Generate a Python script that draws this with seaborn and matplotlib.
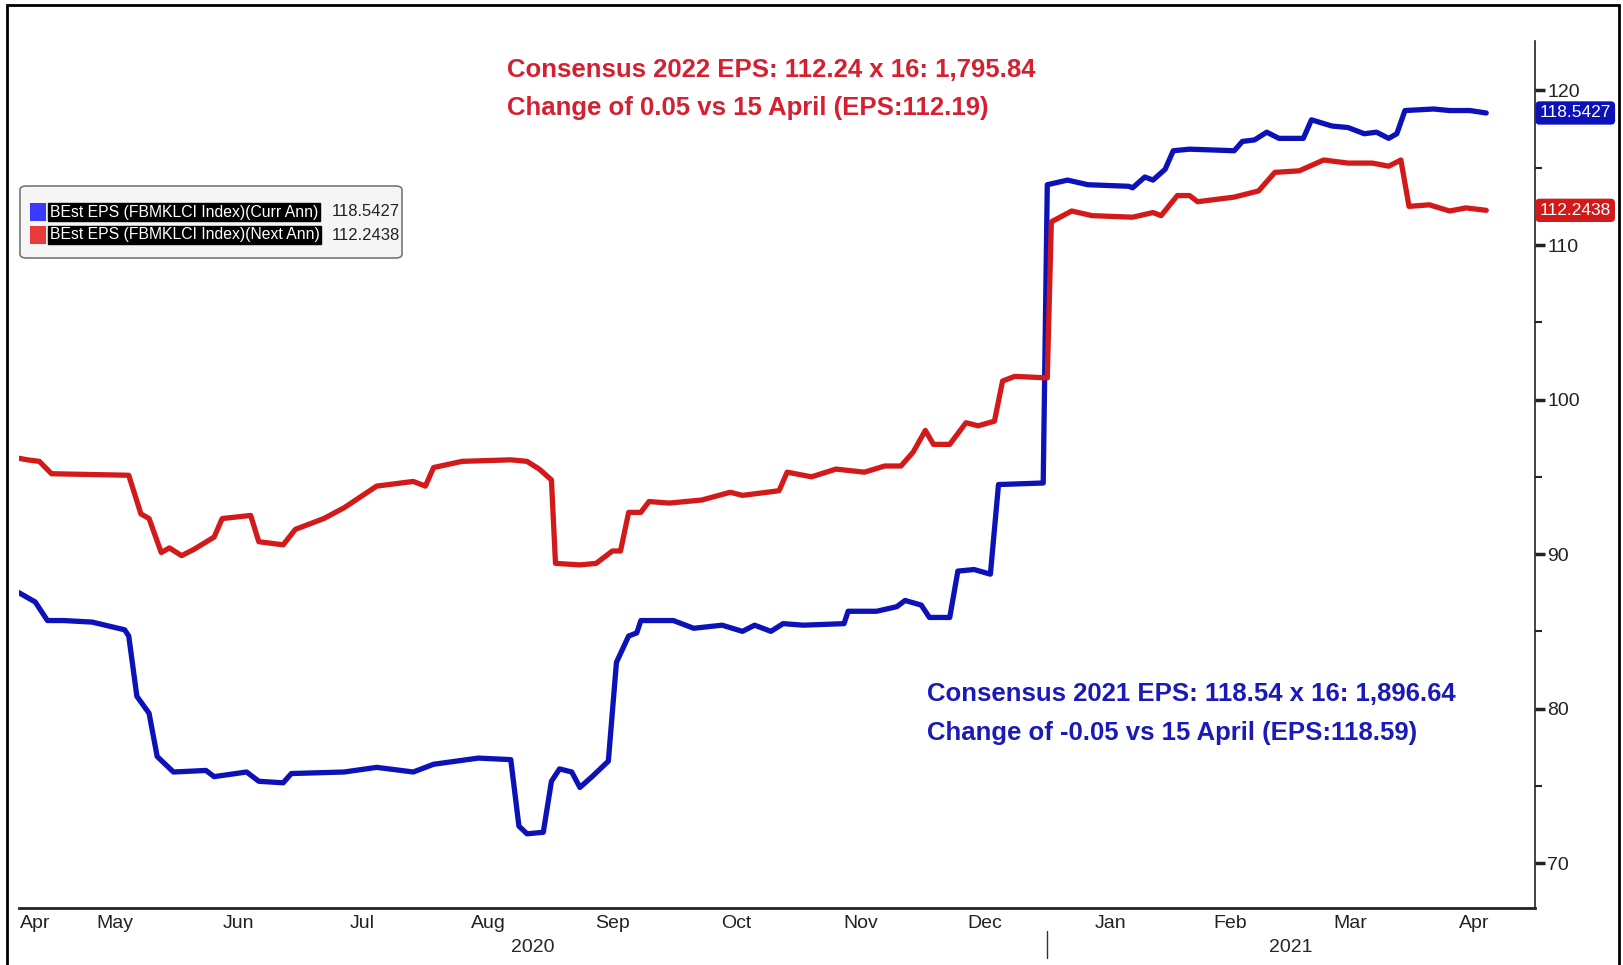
import matplotlib
matplotlib.use("Agg")
import matplotlib.pyplot as plt
from matplotlib.patches import Rectangle, FancyBboxPatch
import pandas as pd
import seaborn as sns

# BEst EPS (FBMKLCI Index)(Curr Ann)
curr_dates = ["2020-04-23", "2020-04-27", "2020-04-30", "2020-05-04", "2020-05-11", "2020-05-19",
              "2020-05-20", "2020-05-22", "2020-05-25", "2020-05-27", "2020-05-31", "2020-06-08",
              "2020-06-10", "2020-06-18", "2020-06-21", "2020-06-27", "2020-06-29", "2020-07-12",
              "2020-07-20", "2020-07-29", "2020-08-03", "2020-08-14", "2020-08-22", "2020-08-24",
              "2020-08-26", "2020-08-30", "2020-09-01", "2020-09-03", "2020-09-06", "2020-09-08",
              "2020-09-11", "2020-09-15", "2020-09-17", "2020-09-20", "2020-09-22", "2020-09-23",
              "2020-10-01", "2020-10-06", "2020-10-13", "2020-10-18", "2020-10-21", "2020-10-25",
              "2020-10-28", "2020-11-02", "2020-11-12", "2020-11-13", "2020-11-20", "2020-11-25",
              "2020-11-27", "2020-12-01", "2020-12-03", "2020-12-08", "2020-12-10", "2020-12-14",
              "2020-12-18", "2020-12-20", "2020-12-31", "2021-01-01", "2021-01-06", "2021-01-11",
              "2021-01-21", "2021-01-22", "2021-01-25", "2021-01-27", "2021-01-30", "2021-02-01",
              "2021-02-05", "2021-02-16", "2021-02-18", "2021-02-21", "2021-02-24", "2021-02-27",
              "2021-03-05", "2021-03-07", "2021-03-12", "2021-03-16", "2021-03-20", "2021-03-23",
              "2021-03-26", "2021-03-28", "2021-03-30", "2021-04-06", "2021-04-10", "2021-04-15",
              "2021-04-19"]
curr_eps = [87.5, 86.9, 85.7, 85.7, 85.6, 85.1,
            84.7, 80.8, 79.7, 76.9, 75.9, 76.0,
            75.6, 75.9, 75.3, 75.2, 75.8, 75.9,
            76.2, 75.9, 76.4, 76.8, 76.7, 72.4,
            71.9, 72.0, 75.3, 76.1, 75.9, 74.9,
            75.6, 76.6, 83.0, 84.7, 84.9, 85.7,
            85.7, 85.2, 85.4, 85.0, 85.4, 85.0,
            85.5, 85.4, 85.5, 86.3, 86.3, 86.6,
            87.0, 86.7, 85.9, 85.9, 88.9, 89.0,
            88.7, 94.5, 94.6, 113.9, 114.2, 113.9,
            113.8, 113.7, 114.4, 114.2, 114.9, 116.1,
            116.2, 116.1, 116.7, 116.8, 117.3, 116.9,
            116.9, 118.1, 117.7, 117.6, 117.2, 117.3,
            116.9, 117.2, 118.7, 118.8, 118.7, 118.7,
            118.5427]

# BEst EPS (FBMKLCI Index)(Next Ann)
next_dates = ["2020-04-23", "2020-04-25", "2020-04-28", "2020-05-01", "2020-05-20", "2020-05-23",
              "2020-05-25", "2020-05-28", "2020-05-30", "2020-06-02", "2020-06-05", "2020-06-10",
              "2020-06-12", "2020-06-19", "2020-06-21", "2020-06-27", "2020-06-30", "2020-07-07",
              "2020-07-12", "2020-07-20", "2020-07-29", "2020-08-01", "2020-08-03", "2020-08-10",
              "2020-08-22", "2020-08-26", "2020-08-29", "2020-09-01", "2020-09-02", "2020-09-08",
              "2020-09-12", "2020-09-16", "2020-09-18", "2020-09-20", "2020-09-23", "2020-09-25",
              "2020-09-30", "2020-10-08", "2020-10-15", "2020-10-18", "2020-10-27", "2020-10-29",
              "2020-11-04", "2020-11-10", "2020-11-17", "2020-11-22", "2020-11-26", "2020-11-29",
              "2020-12-02", "2020-12-04", "2020-12-08", "2020-12-12", "2020-12-15", "2020-12-19",
              "2020-12-21", "2020-12-24", "2021-01-01", "2021-01-02", "2021-01-07", "2021-01-12",
              "2021-01-22", "2021-01-27", "2021-01-29", "2021-02-02", "2021-02-05", "2021-02-07",
              "2021-02-16", "2021-02-22", "2021-02-26", "2021-03-04", "2021-03-10", "2021-03-16",
              "2021-03-22", "2021-03-26", "2021-03-29", "2021-03-31", "2021-04-05", "2021-04-10",
              "2021-04-14", "2021-04-19"]
next_eps = [96.2, 96.1, 96.0, 95.2, 95.1, 92.6,
            92.3, 90.1, 90.4, 89.9, 90.3, 91.1,
            92.3, 92.5, 90.8, 90.6, 91.6, 92.3,
            93.0, 94.4, 94.7, 94.4, 95.6, 96.0,
            96.1, 96.0, 95.5, 94.8, 89.4, 89.3,
            89.4, 90.2, 90.2, 92.7, 92.7, 93.4,
            93.3, 93.5, 94.0, 93.8, 94.1, 95.3,
            95.0, 95.5, 95.3, 95.7, 95.7, 96.6,
            98.0, 97.1, 97.1, 98.5, 98.3, 98.6,
            101.2, 101.5, 101.4, 111.5, 112.2, 111.9,
            111.8, 112.1, 111.9, 113.2, 113.2, 112.8,
            113.1, 113.5, 114.7, 114.8, 115.5, 115.3,
            115.3, 115.1, 115.5, 112.5, 112.6, 112.2,
            112.4, 112.2438]

legend_labels = ["BEst EPS (FBMKLCI Index)(Curr Ann)", "BEst EPS (FBMKLCI Index)(Next Ann)"]
last_values = ["118.5427", "112.2438"]
note_2022 = ["Consensus 2022 EPS: 112.24 x 16: 1,795.84",
             "Change of 0.05 vs 15 April (EPS:112.19)"]
note_2021 = ["Consensus 2021 EPS: 118.54 x 16: 1,896.64",
             "Change of -0.05 vs 15 April (EPS:118.59)"]

df = pd.concat([
    pd.DataFrame({"date": pd.to_datetime(curr_dates), "eps": curr_eps, "series": "curr"}),
    pd.DataFrame({"date": pd.to_datetime(next_dates), "eps": next_eps, "series": "next"}),
])

BLUE = "#0c12b8"
RED = "#d21a1a"

sns.set_style("white")
plt.rcParams['font.family'] = ['Liberation Sans', 'DejaVu Sans']

W, H = 1624, 965
fig = plt.figure(figsize=(W / 100, H / 100), dpi=100)
ax = fig.add_axes([19 / W, (H - 908) / H, (1535 - 19) / W, (908 - 41) / H])

sns.lineplot(data=df, x="date", y="eps", hue="series", palette={"curr": BLUE, "next": RED},
             linewidth=3.8, legend=False, ax=ax)

x0, x1 = pd.Timestamp("2020-04-23"), pd.Timestamp("2021-05-01")
ax.set_xlim(x0, x1)
ax.set_ylim(67.1, 123.2)
ax.set_xlabel("")
ax.set_ylabel("")

# spines
for s in ["left", "top"]:
    ax.spines[s].set_visible(False)
ax.spines["bottom"].set_linewidth(2)
ax.spines["right"].set_linewidth(1.2)
ax.spines["bottom"].set_color("#222222")
ax.spines["right"].set_color("#222222")

# right y axis
ax.yaxis.tick_right()
ax.set_yticks([70, 80, 90, 100, 110, 120])
ax.set_yticks([75, 85, 95, 105, 115], minor=True)
ax.tick_params(axis="y", which="major", direction="out", length=7, width=2.5, pad=2,
               labelsize=14, colors="#222222")
ax.tick_params(axis="y", which="minor", direction="out", length=5, width=1.5)

# x axis: ticks at month starts, labels centred on each month
month_starts = pd.date_range("2020-05-01", "2021-04-01", freq="MS")
ax.set_xticks(month_starts)
ax.xaxis.set_major_formatter(plt.NullFormatter())
ax.tick_params(axis="x", which="major", direction="inout", length=9, width=1.2, colors="#222222")
edges = [x0] + list(month_starts) + [x1]
centres = [a + (b - a) / 2 for a, b in zip(edges[:-1], edges[1:])]
ax.set_xticks(centres, minor=True)
ax.set_xticklabels([c.strftime("%b") for c in centres], minor=True)
ax.tick_params(axis="x", which="minor", length=0, pad=5, labelsize=14, labelcolor="#222222")

# year labels and separator
tr = ax.get_xaxis_transform()
jan = pd.Timestamp("2021-01-01")
ax.text(x0 + (jan - x0) / 2, -0.045, "2020", transform=tr, ha="center", va="center", fontsize=14)
ax.text(jan + (x1 - jan) / 2, -0.045, "2021", transform=tr, ha="center", va="center", fontsize=14)
ax.plot([jan, jan], [-0.027, -0.058], transform=tr, color="#333333", lw=1, clip_on=False)

# last-value badges
yt = ax.get_yaxis_transform()
for val, col in zip(last_values, [BLUE, RED]):
    ax.text(1.003, float(val), val, transform=yt, ha="left", va="center", fontsize=12.5,
            color="white", bbox=dict(boxstyle="round,pad=0.2", fc=col, ec=col))

# legend box
fig.patches.append(FancyBboxPatch((20 / W, (H - 258) / H), 382 / W, 72 / H,
                                  boxstyle="round,pad=0,rounding_size=0.004",
                                  transform=fig.transFigure, fc="#f5f5f5", ec="#777777", lw=1.2))
for i, (lab, val, col) in enumerate(zip(legend_labels, last_values, ["#3a3aff", "#e83a3a"])):
    yc = (H - (212 + 23 * i)) / H
    fig.patches.append(Rectangle((30 / W, yc - 9 / H), 16 / W, 18 / H,
                                 transform=fig.transFigure, fc=col, ec="none"))
    fig.text(50 / W, yc, lab, ha="left", va="center", fontsize=11.3, color="white",
             bbox=dict(boxstyle="square,pad=0.1", fc="black", ec="black"))
    fig.text(332 / W, yc, val, ha="left", va="center", fontsize=12, color="#222222")

# consensus notes
for i, line in enumerate(note_2022):
    fig.text(507 / W, (H - (70 + 38 * i)) / H, line, ha="left", va="center",
             fontsize=18.5, fontweight="bold", color="#d42030")
for i, line in enumerate(note_2021):
    fig.text(927 / W, (H - (694 + 39 * i)) / H, line, ha="left", va="center",
             fontsize=18.5, fontweight="bold", color="#1a1ab8")

# outer frame
fig.patches.append(Rectangle((7 / W, -0.01), (1619 - 7) / W, 1.01 - 5 / H,
                             transform=fig.transFigure, fill=False, ec="black", lw=2))

fig.savefig("out.png", dpi=100)
